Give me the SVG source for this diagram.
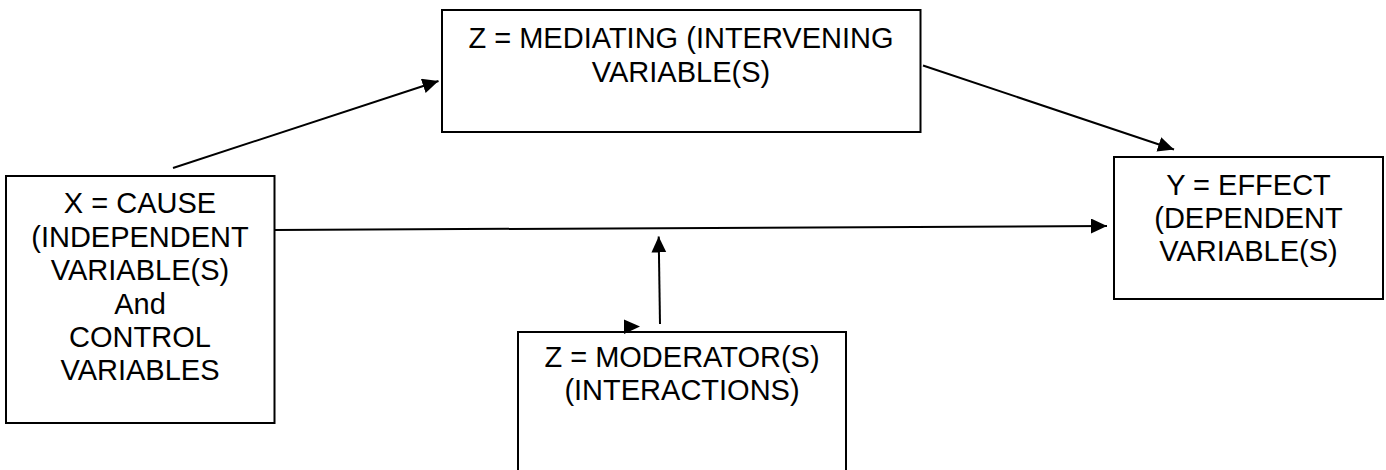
<svg xmlns="http://www.w3.org/2000/svg" width="1386" height="470" viewBox="0 0 1386 470">
  <style>
    .box { fill: #ffffff; stroke: #000000; stroke-width: 2; }
    .lbl { font-family: "Liberation Sans", Arial, sans-serif; font-size: 29px; fill: #000000; text-anchor: middle; }
    .link { fill: none; stroke: #000000; stroke-width: 2; }
  </style>
  <defs>
    <marker id="arrow" markerUnits="userSpaceOnUse" markerWidth="17" markerHeight="16" refX="16" refY="7.5" orient="auto">
      <path d="M0,0 L16,7.5 L0,15 Z" fill="#000000"/>
    </marker>
  </defs>

  <rect x="0" y="0" width="1386" height="470" fill="#ffffff"/>

  <!-- X: cause / independent and control variables -->
  <g id="node-x">
    <rect class="box" x="6" y="176" width="268.5" height="247"/>
    <text class="lbl" x="140" y="213">X = CAUSE</text>
    <text class="lbl" x="140" y="246.5">(INDEPENDENT</text>
    <text class="lbl" x="140" y="280">VARIABLE(S)</text>
    <text class="lbl" x="140" y="313.5">And</text>
    <text class="lbl" x="140" y="347">CONTROL</text>
    <text class="lbl" x="140" y="380">VARIABLES</text>
  </g>

  <!-- Z: mediating / intervening variables -->
  <g id="node-mediator">
    <rect class="box" x="442" y="10" width="478.5" height="122"/>
    <text class="lbl" x="681" y="47.5">Z = MEDIATING (INTERVENING</text>
    <text class="lbl" x="681" y="81.5">VARIABLE(S)</text>
  </g>

  <!-- Y: effect / dependent variables -->
  <g id="node-y">
    <rect class="box" x="1114" y="157" width="269" height="142"/>
    <text class="lbl" x="1248.5" y="195">Y = EFFECT</text>
    <text class="lbl" x="1248.5" y="228">(DEPENDENT</text>
    <text class="lbl" x="1248.5" y="261">VARIABLE(S)</text>
  </g>

  <!-- Z: moderators (runs off the bottom edge) -->
  <g id="node-moderator">
    <rect class="box" x="518" y="332" width="328" height="160"/>
    <text class="lbl" x="682" y="366.5">Z = MODERATOR(S)</text>
    <text class="lbl" x="682" y="400">(INTERACTIONS)</text>
  </g>

  <g id="connectors">
    <line class="link" x1="173" y1="168" x2="438.5" y2="81" marker-end="url(#arrow)"/>
    <line class="link" x1="923" y1="65.5" x2="1174" y2="149.5" marker-end="url(#arrow)"/>
    <line class="link" x1="275" y1="230" x2="1107" y2="226" marker-end="url(#arrow)"/>
    <line class="link" x1="660" y1="324" x2="658.7" y2="236.5" marker-end="url(#arrow)"/>
    <!-- stray arrowhead lying on the moderator box's top edge -->
    <polygon points="624,319.5 640,326.5 624,334" fill="#000000"/>
  </g>
</svg>
